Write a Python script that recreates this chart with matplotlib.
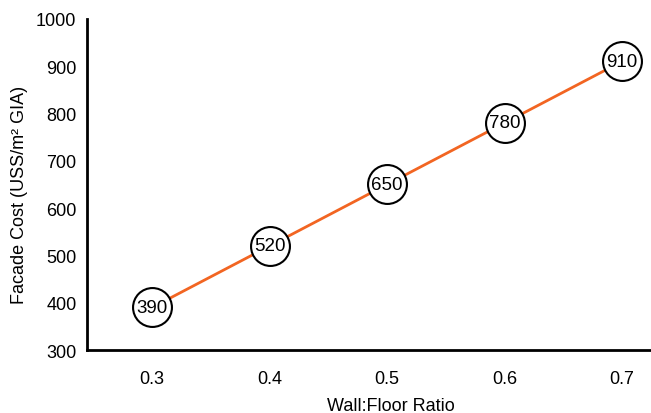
import matplotlib
matplotlib.use('Agg')
import matplotlib.pyplot as plt

# dados
ratio = [0.3, 0.4, 0.5, 0.6, 0.7]
cost = [390, 520, 650, 780, 910]
yticks = [300, 400, 500, 600, 700, 800, 900, 1000]

plt.rcParams['font.family'] = ['Liberation Sans', 'DejaVu Sans']

fig = plt.figure(figsize=(6.51, 4.14), dpi=100)
ax = fig.add_axes([0.1344, 0.152, 0.8656, 0.8])

ax.plot(ratio, cost, '-', color='#F26522', lw=2, zorder=1)
ax.plot(ratio, cost, 'o', ms=28, mfc='white', mec='black', mew=1.5, zorder=2)
for x, y in zip(ratio, cost):
    ax.text(x, y, str(y), ha='center', va='center', fontsize=13.5, zorder=3)

ax.set_xlim(0.245, 0.7247)
ax.set_ylim(300, 1000)
ax.set_xticks(ratio)
ax.set_yticks(yticks)
ax.tick_params(length=0, labelsize=13)
ax.tick_params(axis='x', pad=14)
ax.tick_params(axis='y', pad=8)

for s in ['top', 'right']:
    ax.spines[s].set_visible(False)
for s in ['left', 'bottom']:
    ax.spines[s].set_linewidth(2)

ax.set_xlabel('Wall:Floor Ratio', fontsize=13)
ax.set_ylabel('Facade Cost (USS/m² GIA)', fontsize=13)
# o gráfico original foi cortado à direita, então o rótulo fica deslocado
ax.xaxis.set_label_coords(0.5386, -0.142)
ax.yaxis.set_label_coords(-0.1056, 0.47)

fig.savefig('out.png', dpi=100)
